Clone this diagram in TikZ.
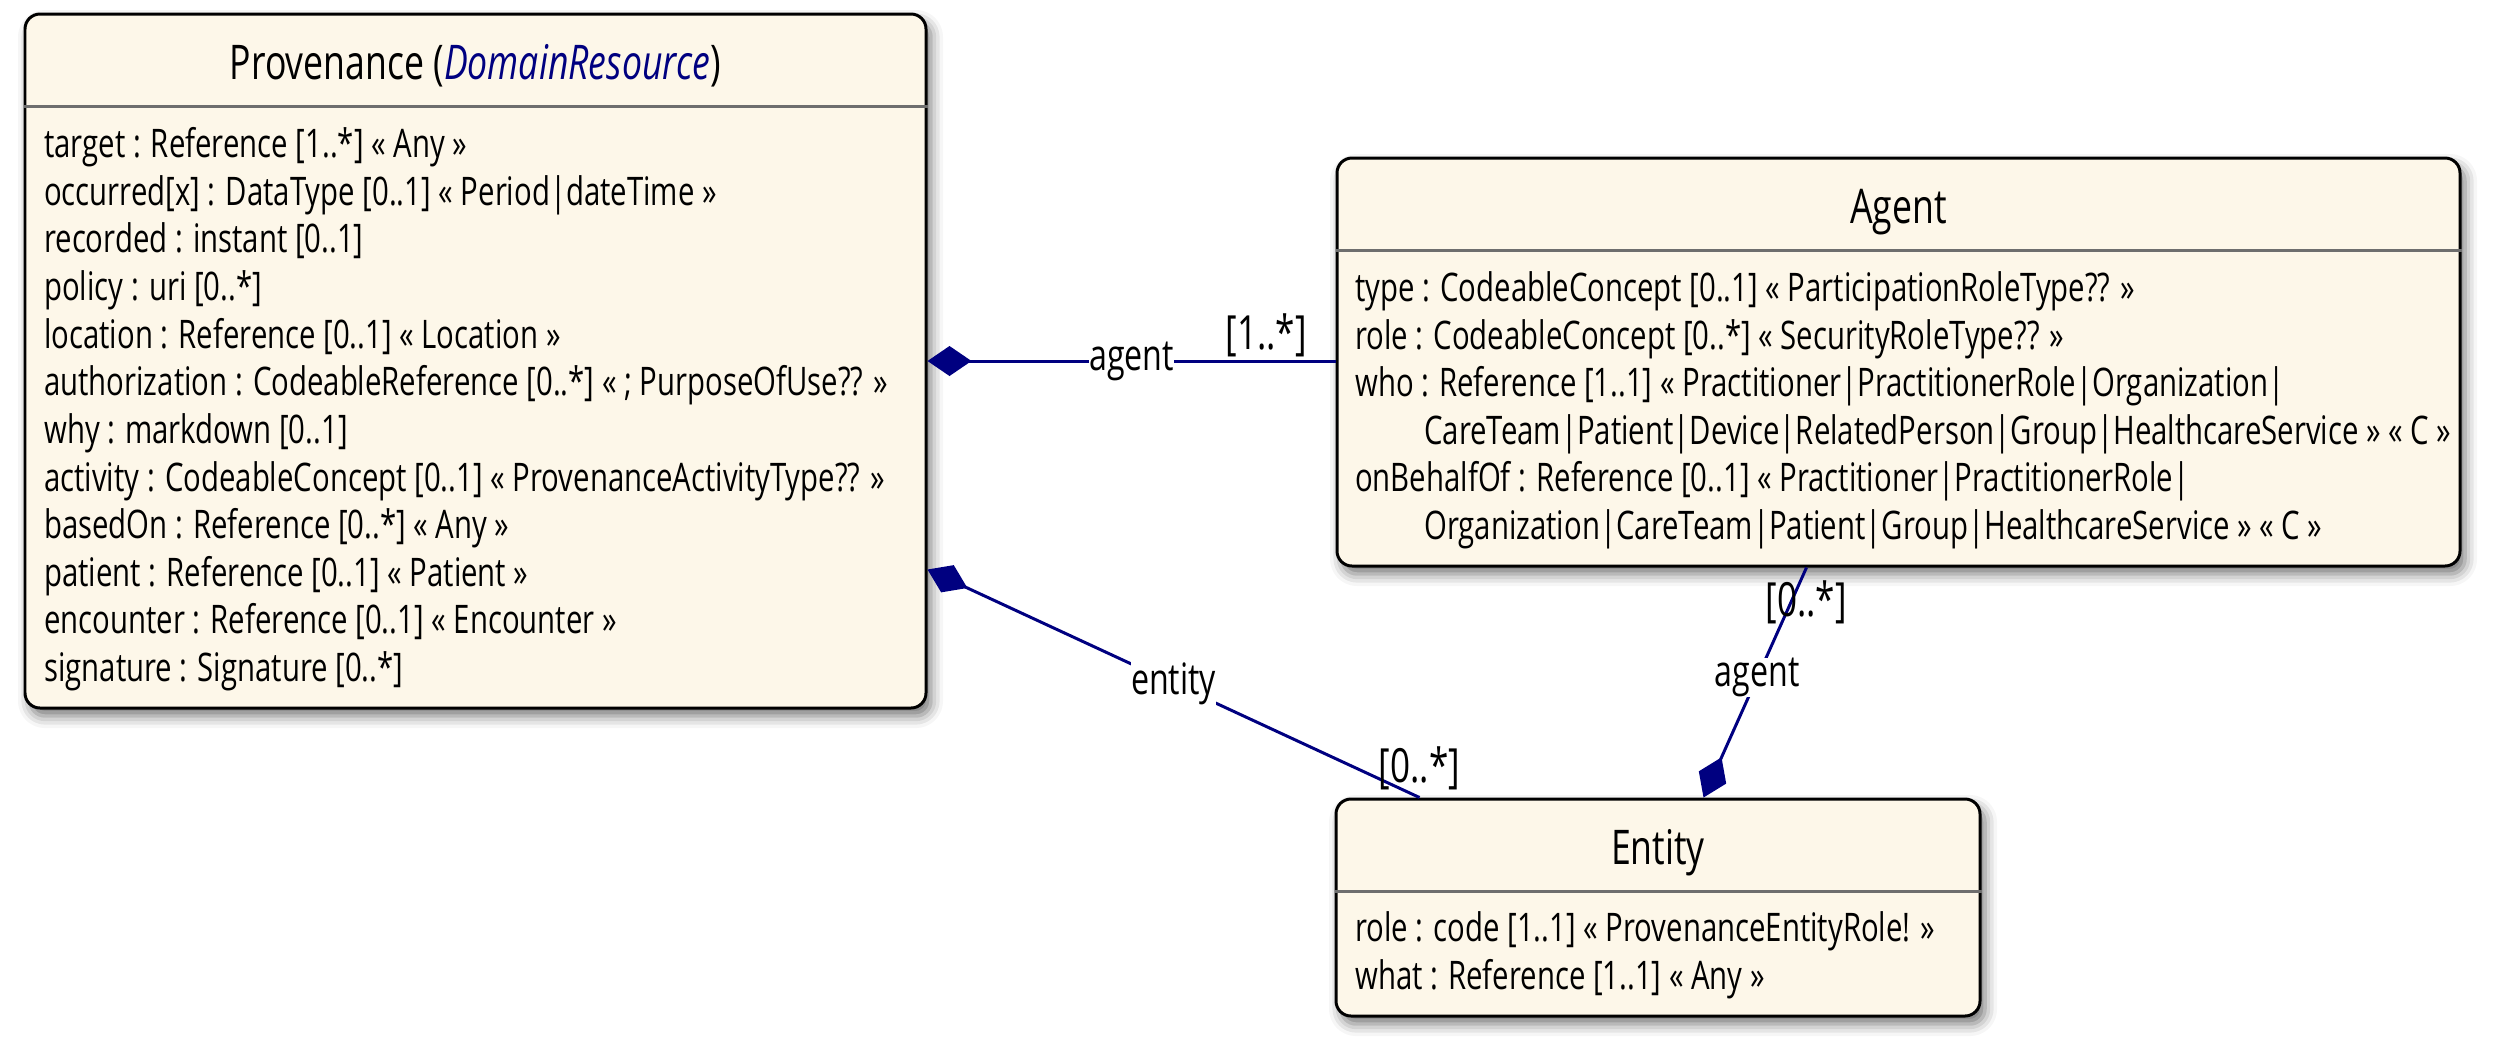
\documentclass[tikz,border=0pt]{standalone}
\usepackage{fontspec}
\setmainfont{Open Sans}[FakeStretch=0.745]
\usepackage{xcolor}
\usetikzlibrary{arrows.meta,shadows.blur}
\definecolor{umlfill}{HTML}{FDF7E9}
\definecolor{umlline}{HTML}{000080}
\definecolor{umlsep}{HTML}{6E6E6E}

\begin{document}
\begin{tikzpicture}[
  classe/.style={draw=black, line width=0.85pt, fill=umlfill, rounded corners=0.15cm, inner sep=0pt,
    blur shadow={shadow xshift=0.05cm, shadow yshift=-0.08cm, shadow blur radius=0.12cm, shadow opacity=55}},
  titre/.style={anchor=base, inner sep=0pt, font=\fontsize{13.6}{16}\selectfont},
  attr/.style={anchor=base west, align=left, inner sep=0pt, font=\fontsize{11.2}{13.55}\selectfont},
  sep/.style={draw=umlsep, line width=0.85pt},
  lien/.style={draw=umlline, line width=0.85pt},
  compo/.style={{Diamond[length=0.44cm,width=0.3cm]}-},
  role/.style={fill=white, inner sep=0pt, font=\fontsize{12.3}{14}\selectfont},
  card/.style={inner sep=0pt, font=\fontsize{13.4}{16}\selectfont}]

\useasboundingbox (0,0) rectangle (25,-10.56);

\node[classe, minimum width=9.01cm,  minimum height=6.94cm] (P) at (4.755,-3.61)  {};
\node[classe, minimum width=11.23cm, minimum height=4.08cm] (A) at (18.985,-3.62) {};
\node[classe, minimum width=6.44cm,  minimum height=2.17cm] (E) at (16.58,-9.075) {};

\draw[sep] ([yshift=-0.94cm]P.north west) -- ([yshift=-0.94cm]P.north east);
\draw[sep] ([yshift=-0.94cm]A.north west) -- ([yshift=-0.94cm]A.north east);
\draw[sep] ([yshift=-0.94cm]E.north west) -- ([yshift=-0.94cm]E.north east);

\node[titre] (Ptitre) at ([yshift=-0.67cm]P.north) {Provenance (\textcolor{umlline}{\itshape DomainResource})};
\node[titre] (Atitre) at ([yshift=-0.67cm]A.north) {Agent};
\node[titre] (Etitre) at ([yshift=-0.67cm]E.north) {Entity};

\node[attr] (Pattr) at ([xshift=0.2cm,yshift=0.28cm]P.south west) {%
target : Reference [1..*] « Any »\\
occurred[x] : DataType [0..1] « Period|dateTime »\\
recorded : instant [0..1]\\
policy : uri [0..*]\\
location : Reference [0..1] « Location »\\
authorization : CodeableReference [0..*] « ; PurposeOfUse?? »\\
why : markdown [0..1]\\
activity : CodeableConcept [0..1] « ProvenanceActivityType?? »\\
basedOn : Reference [0..*] « Any »\\
patient : Reference [0..1] « Patient »\\
encounter : Reference [0..1] « Encounter »\\
signature : Signature [0..*]};

\node[attr] (Aattr) at ([xshift=0.19cm,yshift=0.28cm]A.south west) {%
type : CodeableConcept [0..1] « ParticipationRoleType?? »\\
role : CodeableConcept [0..*] « SecurityRoleType?? »\\
who : Reference [1..1] « Practitioner|PractitionerRole|Organization|\\
\hspace*{0.69cm}CareTeam|Patient|Device|RelatedPerson|Group|HealthcareService » « C »\\
onBehalfOf : Reference [0..1] « Practitioner|PractitionerRole|\\
\hspace*{0.69cm}Organization|CareTeam|Patient|Group|HealthcareService » « C »};

\node[attr] (Eattr) at ([xshift=0.2cm,yshift=0.28cm]E.south west) {%
role : code [1..1] « ProvenanceEntityRole! »\\
what : Reference [1..1] « Any »};

\draw[lien, compo] (P.east) -- (P.east -| A.west)
  node[role, pos=0.5] {agent}
  node[card, pos=0.83, yshift=0.26cm] {[1..*]};
\draw[lien, compo] ([yshift=1.40cm]P.south east) -- ([xshift=0.85cm]E.north west)
  node[role, pos=0.5] {entity}
  node[card, pos=1, anchor=south, yshift=0.06cm] {[0..*]};
\draw[lien, compo] ([xshift=3.69cm]E.north west) -- ([xshift=4.71cm]A.south west)
  node[role, pos=0.52] {agent}
  node[card, pos=0.85, xshift=0.15cm] {[0..*]};

\end{tikzpicture}
\end{document}
